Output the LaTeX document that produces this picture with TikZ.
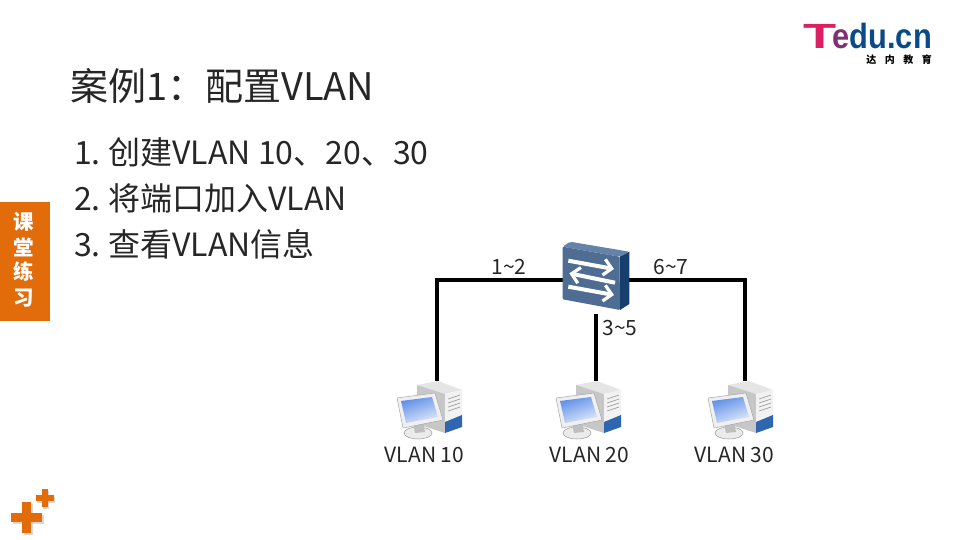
\documentclass[tikz,border=0pt]{standalone}
\usepackage{fontspec}
\setmainfont{Noto Sans CJK SC}
\newfontfamily\logofont{Liberation Sans}
\usetikzlibrary{arrows.meta}
\definecolor{eduorange}{HTML}{E36C0A}
\definecolor{edublue}{HTML}{0B4A88}
\definecolor{edupink}{HTML}{DC1F63}
\definecolor{swfront}{HTML}{4F6D93}
\definecolor{swtop}{HTML}{6583A8}
\definecolor{swside}{HTML}{163F6E}
\definecolor{pcscreen}{HTML}{5F8FE8}
\definecolor{pcbase}{HTML}{2F66B0}
\tikzset{
  title/.style={anchor=west, text=black!85, font=\fontsize{38}{42}\selectfont, inner sep=0},
  item/.style={anchor=west, text=black!85, font=\fontsize{32}{36}\selectfont, inner sep=0},
  side/.style={text=white, font=\fontsize{20.5}{23}\selectfont\bfseries, inner sep=0},
  small/.style={text=black!85, font=\fontsize{21}{25}\selectfont, inner sep=0},
  link/.style={draw=black, line width=3.6, line join=miter},
  swarrow/.style={draw=white, line width=4, -{Straight Barb[length=8,width=16,line width=3.2]}},
  device/.style={minimum width=66, inner sep=0, outer sep=0},
  pcicon/.pic={
    % tower
    \fill[black!10] (-20,-25) -- (1,-29) -- (25,-20) -- (8,-16) -- cycle;
    \fill[black!22] (-20,-25) -- (8,-16) -- (8,23) -- (-20,14) -- cycle;
    \fill[black!5] (8,-16) -- (25,-20) -- (25,17) -- (8,23) -- cycle;
    \fill[pcbase] (8,12) -- (25,5) -- (25,17) -- (8,23) -- cycle;
    \foreach \s in {-11,-7,-3,1}
      \draw[black!35, line width=0.8] (11,\s) -- (23,\s-4);
    % stand
    \fill[black!8, draw=black!40, line width=0.5] (-19,23) ellipse (14 and 6);
    \fill[black!25] (-24,14) -- (-14,12) -- (-12,22) -- (-22,23) -- cycle;
    % monitor
    \fill[black!6, draw=black!35, line width=0.5] (-40,-12) -- (-2,-17) -- (6,10) -- (-34,18) -- cycle;
    \shade[top color=pcscreen, bottom color=pcscreen!20, shading angle=20]
      (-36,-9) -- (-5,-13) -- (1,7) -- (-31,13) -- cycle;
  },
  swicon/.pic={
    \fill[swside] (23.5,-23.3) -- (33.3,-28.3) -- (33.3,24) -- (24,30) -- cycle;
    \fill[swtop, rounded corners=2] (-33.3,-33.3) -- (-26,-38.3) -- (33.3,-28.3) -- (23.5,-23.3) -- cycle;
    \fill[swfront, rounded corners=1] (-33.3,-33.3) -- (23.5,-23.3) -- (24,30) -- (-33.3,19.3) -- cycle;
    \draw[swarrow] (-27.7,-19.3) -- (18,-11);
    \draw[swarrow] (19,2.7) -- (-26.7,-6.7);
    \draw[swarrow] (-27.7,6.7) -- (18,15);
  },
  plus/.pic={
    \fill (-15.5,-4.5) rectangle (15.5,4.5);
    \fill (-4.5,-15.5) rectangle (4.5,15.5);
  },
  plussmall/.pic={
    \fill (-9,-3) rectangle (9,3);
    \fill (-2.7,-9) rectangle (2.7,9);
  }
}
\begin{document}
\begin{tikzpicture}[x=1pt, y=-1pt]
  \useasboundingbox (0,0) rectangle (960,540);
  \fill[white] (0,0) rectangle (960,540);

  % Logo
  \node[inner sep=0, anchor=base east, font=\logofont\fontsize{35}{36}\selectfont\bfseries] (logo) at (932,49)
    {\textcolor{edupink}{\scalebox{1.55}[1]{T}}\kern-4pt\scalebox{0.88}[1]{\textcolor{edupink!55!edublue}{e}\textcolor{edublue}{du.cn}}};
  \node[inner sep=0, anchor=east, font=\fontsize{10}{11}\selectfont\bfseries] (logosub) at (932,59.5) {达\kern8.5pt 内\kern8.5pt 教\kern8.5pt 育};

  % Title and steps
  \node[title] (heading) at (70,86) {案例1：配置VLAN};
  \node[item] (stepA) at (74,152) {1.\kern-2pt{} 创建VLAN 10、20、30};
  \node[item] (stepB) at (74,198) {2.\kern-2pt{} 将端口加入VLAN};
  \node[item] (stepC) at (74,244) {3.\kern-2pt{} 查看VLAN信息};

  % Side tab
  \fill[eduorange] (0,202) rectangle (50,321);
  \node[side] (tabA) at (24,222) {课};
  \node[side] (tabB) at (24,247) {堂};
  \node[side] (tabC) at (24,272) {练};
  \node[side] (tabD) at (24,298) {习};

  % Corner crosses
  \pic[black!25, opacity=0.6] at (28,519) {plus};
  \pic[black!25, opacity=0.6] at (46,500) {plussmall};
  \pic[eduorange] at (26.5,517) {plus};
  \pic[eduorange] at (45,498) {plussmall};

  % Devices
  \node[device, minimum height=64] (sw) at (596,280) {};
  \node[device, minimum height=58] (pcA) at (437,410) {};
  \node[device, minimum height=58] (pcB) at (596,410) {};
  \node[device, minimum height=58] (pcC) at (745,410) {};

  % Links
  \draw[link] (sw.west) -| (pcA.north);
  \draw[link] (sw.east) -| (pcC.north);
  \draw[link, shorten <=2] (sw.south) -- (pcB.north);

  \pic at (sw) {swicon};
  \pic at (pcA) {pcicon};
  \pic at (pcB) {pcicon};
  \pic at ([xshift=3]pcC) {pcicon};

  % Link and device labels
  \node[small] (portA) at (509,267) {1\textasciitilde2};
  \node[small] (portB) at (671,267) {6\textasciitilde7};
  \node[small] (portC) at (620,328) {3\textasciitilde5};
  \node[small] (nameA) at (424.5,454.5) {VLAN 10};
  \node[small] (nameB) at (589.5,454.5) {VLAN 20};
  \node[small] (nameC) at (734.5,454.5) {VLAN 30};
\end{tikzpicture}
\end{document}
